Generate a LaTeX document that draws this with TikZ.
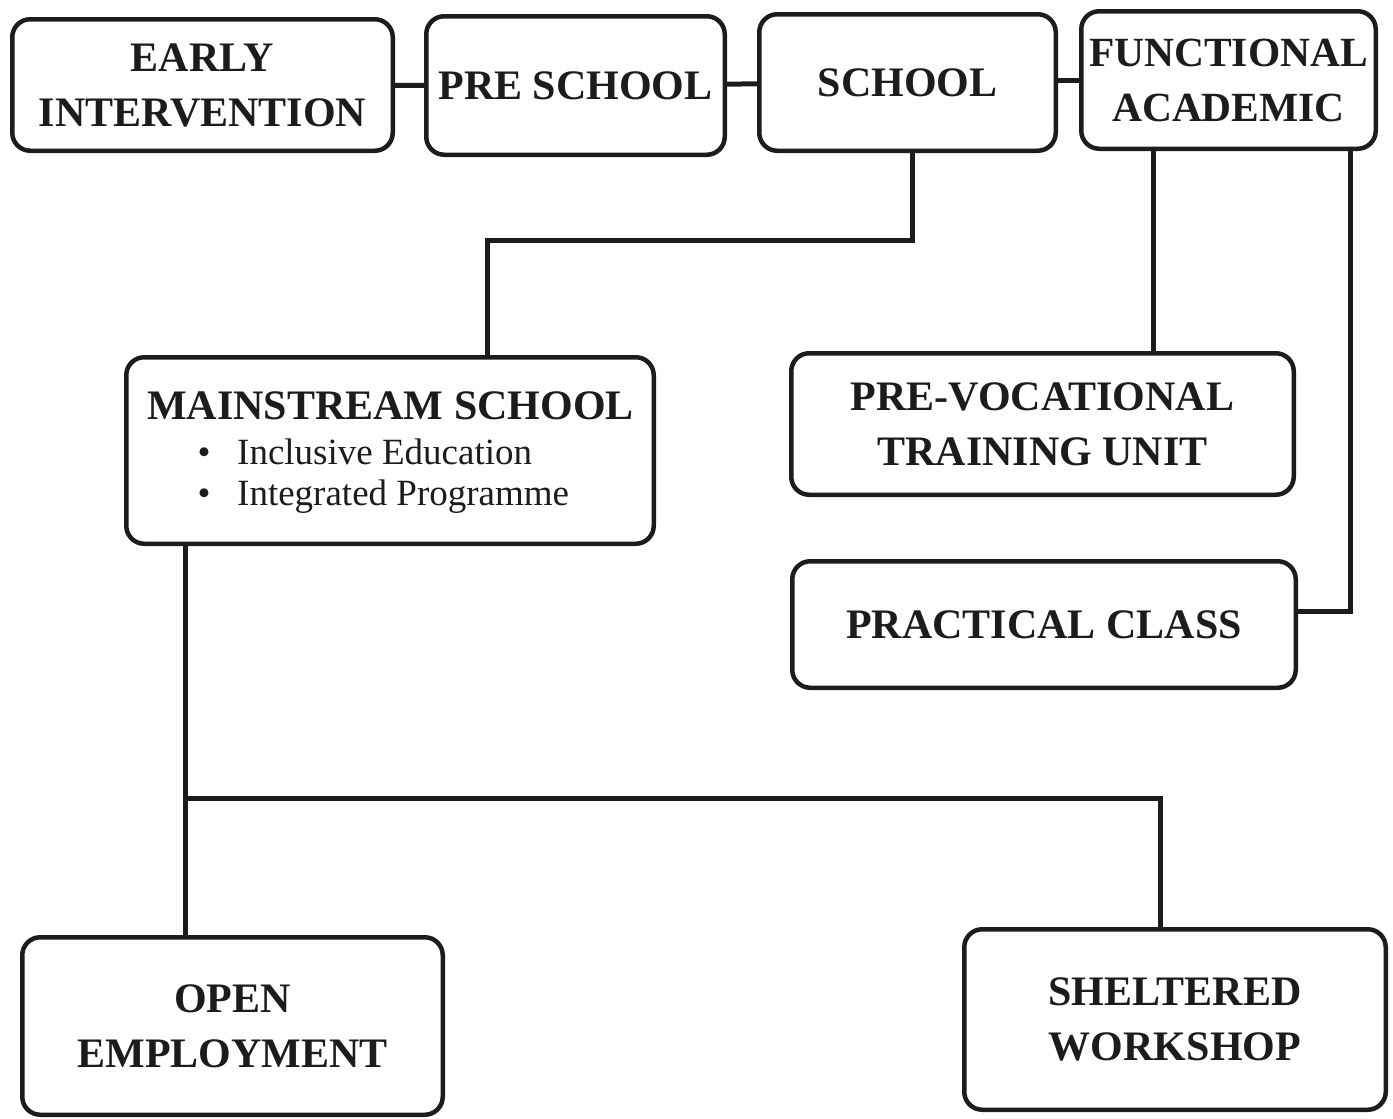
\documentclass[tikz,border=0pt]{standalone}
\usepackage{fontspec}
\setmainfont{Liberation Serif}
\definecolor{ink}{RGB}{28,28,28}
\begin{document}
\begin{tikzpicture}[x=1pt,y=-1pt,
  box/.style={draw=ink, line width=4.5pt, rounded corners=18pt, inner sep=0pt, align=center, text=ink, font=\bfseries\fontsize{42}{55}\selectfont},
  title/.style={inner sep=0pt, text=ink, font=\bfseries\fontsize{42}{55}\selectfont},
  sub/.style={inner sep=0pt, text=ink, font=\fontsize{37}{41}\selectfont},
  link/.style={draw=ink, line width=5pt}]
\useasboundingbox (0,0) rectangle (1393,1119);
% top row
\node[box, minimum width=380.5pt, minimum height=131.5pt] (early) at (202.5,85) {EARLY\\INTERVENTION};
\node[box, minimum width=298.5pt, minimum height=138.5pt] (pre) at (575.5,85.5) {PRE SCHOOL};
\node[box, minimum width=296.5pt, minimum height=136.5pt] (school) at (907.5,82.5) {SCHOOL};
\node[box, minimum width=294.5pt, minimum height=137.5pt, font=\bfseries\fontsize{41.5}{55}\selectfont] (func) at (1228.5,80) {FUNCTIONAL\\ACADEMIC};
% middle
\node[box, minimum width=527.5pt, minimum height=186.5pt] (main) at (390,450.5) {};
\node[title, anchor=base] (mtitle) at (390.5,419) {MAINSTREAM SCHOOL};
\node[sub, anchor=base] (d1) at (204,464) {•};
\node[sub, anchor=base west] (b1) at (237,464) {Inclusive Education};
\node[sub, anchor=base] (d2) at (204,505) {•};
\node[sub, anchor=base west] (b2) at (237,505) {Integrated Programme};
\node[box, minimum width=502.5pt, minimum height=141.5pt] (prevoc) at (1042.5,424) {PRE-VOCATIONAL\\TRAINING UNIT};
\node[box, minimum width=503.5pt, minimum height=126.5pt] (practical) at (1044,624.5) {PRACTICAL CLASS};
% bottom
\node[box, minimum width=420.5pt, minimum height=177.5pt] (open) at (232.5,1026) {OPEN\\EMPLOYMENT};
\node[box, minimum width=421.5pt, minimum height=180.5pt] (shelter) at (1175,1019.5) {SHELTERED\\WORKSHOP};
% connectors
\draw[link] (early) -- (pre);
\draw[link] (pre) -- (school);
\draw[link] (school.east |- func.west) -- (func.west);
\draw[link] ([xshift=4.5pt]school.south) -- ++(0,87) -| ([xshift=97pt]main.north);
\draw[link] ([xshift=-75.5pt]func.south) -- ([xshift=-75.5pt]func.south |- prevoc.north);
\draw[link] ([xshift=121.5pt]func.south) |- ([yshift=13.5pt]practical.east);
\draw[link] ([xshift=-205pt]main.south) -- ([xshift=-205pt]main.south |- open.north);
\coordinate (j) at (185,798);
\draw[link] (j) -| ([xshift=-15pt]shelter.north);
\end{tikzpicture}
\end{document}
